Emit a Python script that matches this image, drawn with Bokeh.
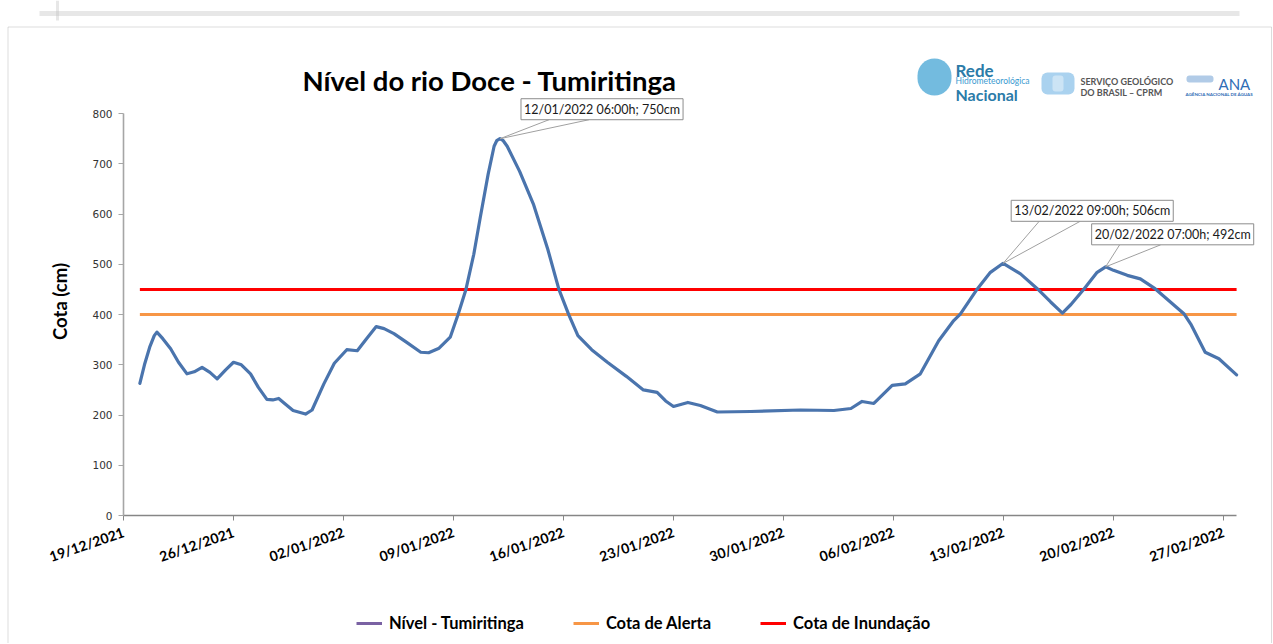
import math
import pandas as pd
from bokeh.plotting import figure
from bokeh.models import (Range1d, FixedTicker, DatetimeTickFormatter, Legend, LegendItem,
                          Label, BoxAnnotation, ColumnDataSource)
from bokeh.embed import file_html
from bokeh.resources import INLINE

# ---------------- data ----------------
nivel_datas = [
    "2021-12-20 01:00", "2021-12-20 08:00", "2021-12-20 16:00", "2021-12-20 23:00",
    "2021-12-21 03:00", "2021-12-21 12:00",
    "2021-12-22 00:00", "2021-12-22 12:00", "2021-12-23 01:00", "2021-12-23 12:00",
    "2021-12-24 00:00", "2021-12-24 12:00", "2021-12-24 23:00", "2021-12-25 12:00",
    "2021-12-26 00:00", "2021-12-26 12:00", "2021-12-27 02:00", "2021-12-27 14:00",
    "2021-12-28 03:00", "2021-12-28 12:00", "2021-12-28 21:00", "2021-12-29 07:00",
    "2021-12-29 19:00", "2021-12-30 14:00", "2021-12-31 00:00", "2021-12-31 18:00",
    "2022-01-01 10:00", "2022-01-02 05:00", "2022-01-02 21:00", "2022-01-03 10:00",
    "2022-01-04 02:00", "2022-01-04 14:00", "2022-01-05 05:00", "2022-01-06 00:00",
    "2022-01-06 22:00", "2022-01-07 10:00", "2022-01-08 02:00", "2022-01-08 19:00",
    "2022-01-09 07:00", "2022-01-09 19:00", "2022-01-10 07:00", "2022-01-10 17:00",
    "2022-01-11 05:00", "2022-01-11 14:00", "2022-01-11 18:00", "2022-01-11 23:00",
    "2022-01-12 04:00", "2022-01-12 10:00", "2022-01-13 05:00", "2022-01-14 02:00",
    "2022-01-15 00:00", "2022-01-15 17:00", "2022-01-16 08:00", "2022-01-16 22:00",
    "2022-01-17 19:00", "2022-01-18 19:00", "2022-01-20 00:00", "2022-01-21 02:00",
    "2022-01-21 23:00", "2022-01-22 12:00", "2022-01-23 00:00", "2022-01-23 22:00",
    "2022-01-24 17:00", "2022-01-25 19:00", "2022-01-27 22:00", "2022-01-31 02:00",
    "2022-02-02 05:00", "2022-02-03 07:00", "2022-02-04 00:00", "2022-02-04 18:00",
    "2022-02-05 22:00", "2022-02-06 18:00", "2022-02-07 17:00", "2022-02-08 21:00",
    "2022-02-09 20:00", "2022-02-10 06:00", "2022-02-11 08:00", "2022-02-12 04:00",
    "2022-02-12 23:30", "2022-02-14 02:00", "2022-02-15 04:00", "2022-02-16 00:00",
    "2022-02-16 18:00", "2022-02-17 07:00", "2022-02-18 03:00", "2022-02-18 23:00",
    "2022-02-19 12:00", "2022-02-20 00:00", "2022-02-20 21:00", "2022-02-21 17:00",
    "2022-02-22 16:00", "2022-02-23 14:00", "2022-02-24 12:00", "2022-02-24 22:00",
    "2022-02-25 20:00", "2022-02-26 17:00", "2022-02-27 20:00",
]
nivel_cm = [
    263, 300, 335, 358,
    365, 352,
    332, 305, 282, 286,
    295, 285, 272, 290,
    305, 300, 282, 255,
    231, 230, 233, 222,
    209, 202, 210, 262,
    303, 330, 328, 350,
    376, 372, 362, 345,
    325, 324, 333, 355,
    400, 450, 520, 594,
    680, 735, 746, 750,
    746, 735, 685, 620,
    530, 450, 400, 358,
    330, 305, 277, 250,
    245, 228, 217, 225,
    219, 206, 207, 210,
    209, 213, 227, 223,
    259, 262, 282, 348,
    388, 401, 451, 484,
    502, 481, 451, 425,
    403, 420, 451, 484,
    495, 488, 478, 471,
    451, 426, 401, 381,
    325, 312, 280,
]
cota_alerta = 400
cota_inundacao = 450

tick_datas = ["2021-12-19", "2021-12-26", "2022-01-02", "2022-01-09", "2022-01-16",
              "2022-01-23", "2022-01-30", "2022-02-06", "2022-02-13", "2022-02-20",
              "2022-02-27"]
y_ticks = [0, 100, 200, 300, 400, 500, 600, 700, 800]

ann_datas = ["2022-01-11 23:00", "2022-02-12 23:30", "2022-02-19 12:00"]
ann_cm = [750, 502, 495]
ann_textos = ["12/01/2022 06:00h; 750cm", "13/02/2022 09:00h; 506cm", "20/02/2022 07:00h; 492cm"]

# ---------------- layout constants (page px) ----------------
W, H = 1272, 643
X0_PX = 123            # where the first tick date sits
Y0_PX = 515            # where 0 cm sits
PX_PER_DAY = 110 / 7
PX_PER_CM = (515 - 113.1) / 800

# callout geometry (screen px relative to the pointed value)
box_dx = [21, 8, -14]
box_dy = [19, 42, 22]
wedge_a = [49, 36, 14]
wedge_b = [89, 77, 55]

x_first = pd.Timestamp(tick_datas[0])
x_start = x_first - pd.Timedelta(days=X0_PX / PX_PER_DAY)
x_end = x_start + pd.Timedelta(days=W / PX_PER_DAY)
y_start = -(H - Y0_PX) / PX_PER_CM
y_end = Y0_PX / PX_PER_CM

datas = pd.to_datetime(nivel_datas)

p = figure(width=W, height=H, x_axis_type="datetime", output_backend="svg",
           toolbar_location=None, title=None,
           x_range=Range1d(x_start.to_pydatetime(), x_end.to_pydatetime()),
           y_range=Range1d(y_start, y_end), min_border=0)
p.background_fill_color = "white"
p.border_fill_color = "white"
p.outline_line_color = None
p.grid.visible = False

# axes (fixed at the chart origin)
p.xaxis.fixed_location = 0
p.xaxis.ticker = FixedTicker(ticks=[pd.Timestamp(t).value / 1e6 for t in tick_datas])
fmt = "%d/%m/%Y"
p.xaxis.formatter = DatetimeTickFormatter(days=fmt, months=fmt, years=fmt, hours=fmt,
                                          hourmin=fmt, minutes=fmt, minsec=fmt,
                                          seconds=fmt, milliseconds=fmt, microseconds=fmt)
p.xaxis.bounds = (x_first.to_pydatetime(), datas[-1].to_pydatetime())
p.xaxis.major_label_orientation = 0.33
p.xaxis.major_label_text_font = "Lato"
p.xaxis.major_label_text_font_style = "bold"
p.xaxis.major_label_text_font_size = "14px"
p.xaxis.major_label_text_color = "black"
p.xaxis.major_label_standoff = 11
p.xaxis.axis_line_color = "#868686"
p.xaxis.axis_line_width = 1.3
p.xaxis.major_tick_line_color = "#868686"
p.xaxis.major_tick_out = 5
p.xaxis.major_tick_in = 0
p.xaxis.minor_tick_line_color = None

p.yaxis.fixed_location = x_first.value / 1e6
p.yaxis.ticker = FixedTicker(ticks=y_ticks)
p.yaxis.bounds = (0, 800)
p.yaxis.major_label_text_font = "DejaVu Sans"
p.yaxis.major_label_text_font_size = "10.5px"
p.yaxis.major_label_text_color = "#333333"
p.yaxis.major_label_standoff = 6
p.yaxis.axis_line_color = "#A6A6A6"
p.yaxis.axis_line_width = 1.6
p.yaxis.major_tick_line_color = "#A6A6A6"
p.yaxis.major_tick_out = 5
p.yaxis.major_tick_in = 0
p.yaxis.minor_tick_line_color = None

# series
src = ColumnDataSource(dict(x=datas, y=nivel_cm))
ext = [datas[0], datas[-1]]
r_alerta = p.line(x=ext, y=[cota_alerta, cota_alerta], line_color="#F79646", line_width=3)
r_inund = p.line(x=ext, y=[cota_inundacao, cota_inundacao], line_color="#FF0000", line_width=3)
r_nivel = p.line("x", "y", source=src, line_color="#4A74AD", line_width=3.2,
                 line_join="round", line_cap="round")
# legend swatch for the level series (Excel shows it in purple)
r_proxy = p.line(x=ext, y=[math.nan, math.nan], line_color="#7A62A3", line_width=3)

# callouts
ann_dt = pd.to_datetime(ann_datas)
seg_x0, seg_y0, seg_x1, seg_y1 = [], [], [], []
for d, v, wa, wb, dy in zip(ann_dt, ann_cm, wedge_a, wedge_b, box_dy):
    for w in (wa, wb):
        seg_x0.append(d)
        seg_y0.append(v)
        seg_x1.append(d + pd.Timedelta(days=w / PX_PER_DAY))
        seg_y1.append(v + dy / PX_PER_CM)
p.segment(x0=seg_x0, y0=seg_y0, x1=seg_x1, y1=seg_y1, line_color="#A0A0A0", line_width=1)
for d, v, t, dx, dy in zip(ann_dt, ann_cm, ann_textos, box_dx, box_dy):
    p.add_layout(Label(x=d.value / 1e6, y=v, x_offset=dx, y_offset=dy, text=t,
                       text_align="left", text_baseline="bottom",
                       text_font="Lato", text_font_size="12.5px", text_color="#1a1a1a",
                       padding=3, border_line_color="#8C8C8C", border_line_width=1,
                       background_fill_color="white"))

# legend
legend = Legend(items=[LegendItem(label="Nível - Tumiritinga", renderers=[r_proxy]),
                       LegendItem(label="Cota de Alerta", renderers=[r_alerta]),
                       LegendItem(label="Cota de Inundação", renderers=[r_inund])],
                orientation="horizontal", location=(356, 10), padding=0, margin=0,
                spacing=49, glyph_width=26, glyph_height=20, label_height=20,
                label_standoff=7, label_text_font="Lato", label_text_font_style="bold",
                label_text_font_size="16.5px", label_text_color="black",
                border_line_color=None, background_fill_alpha=0)
p.add_layout(legend)

# page decorations (canvas px)
def cbox(l, r, t, b, **kw):
    return BoxAnnotation(left=l, right=r, top=t, bottom=b, left_units="canvas",
                         right_units="canvas", top_units="canvas", bottom_units="canvas",
                         **kw)

p.add_layout(cbox(7.5, 1271, 26.5, 700, fill_color=None, line_color="#8A8A8A", line_width=1))
p.add_layout(cbox(39, 1239, 10.5, 15.5, fill_color="#C4C4C4", line_color=None))
p.add_layout(cbox(55.5, 58.5, 0, 20, fill_color="#C4C4C4", line_color=None))
# logo marks
p.add_layout(cbox(917, 951, 58, 95, fill_color="#5AAFD9", fill_alpha=0.85, line_color=None,
                  border_radius=17))
p.add_layout(cbox(1041, 1074, 72, 94, fill_color="#2A8FD8", line_color=None, border_radius=6))
p.add_layout(cbox(1052, 1063, 75, 91, fill_color="white", line_color=None, border_radius=3))
p.add_layout(cbox(1186, 1213, 75, 82, fill_color="#3D7CC4", line_color=None, border_radius=3))


def clabel(x, y, text, size, color, style="normal", font="Lato", **kw):
    p.add_layout(Label(x=x, y=y, x_units="canvas", y_units="canvas", text=text,
                       text_font=font, text_font_size=size, text_color=color,
                       text_font_style=style, **kw))

clabel(302, 80, "Nível do rio Doce - Tumiritinga", "27.5px", "black", "bold",
       text_align="left", text_baseline="alphabetic")
clabel(59, 301, "Cota (cm)", "18.5px", "black", "bold", angle=math.pi / 2,
       text_align="center", text_baseline="middle")
clabel(955, 70, "Rede", "17px", "#2B7BA8", "bold", text_align="left", text_baseline="alphabetic")
clabel(955, 80.5, "Hidrometeorológica", "8.5px", "#3A9AD0",
       text_align="left", text_baseline="alphabetic")
clabel(955, 94, "Nacional", "16px", "#2B7BA8", "bold", text_align="left", text_baseline="alphabetic")
clabel(1080, 80.5, "SERVIÇO GEOLÓGICO", "9px", "#555555", "bold",
       text_align="left", text_baseline="alphabetic")
clabel(1080, 91.5, "DO BRASIL – CPRM", "9px", "#555555", "bold",
       text_align="left", text_baseline="alphabetic")
clabel(1218, 83, "ANA", "15px", "#2F6DB5", text_align="left", text_baseline="alphabetic")
clabel(1185, 94, "AGÊNCIA NACIONAL DE ÁGUAS", "4.5px", "#2F6DB5", "bold",
       text_align="left", text_baseline="alphabetic")

open("out.html", "w").write(file_html(p, INLINE))
